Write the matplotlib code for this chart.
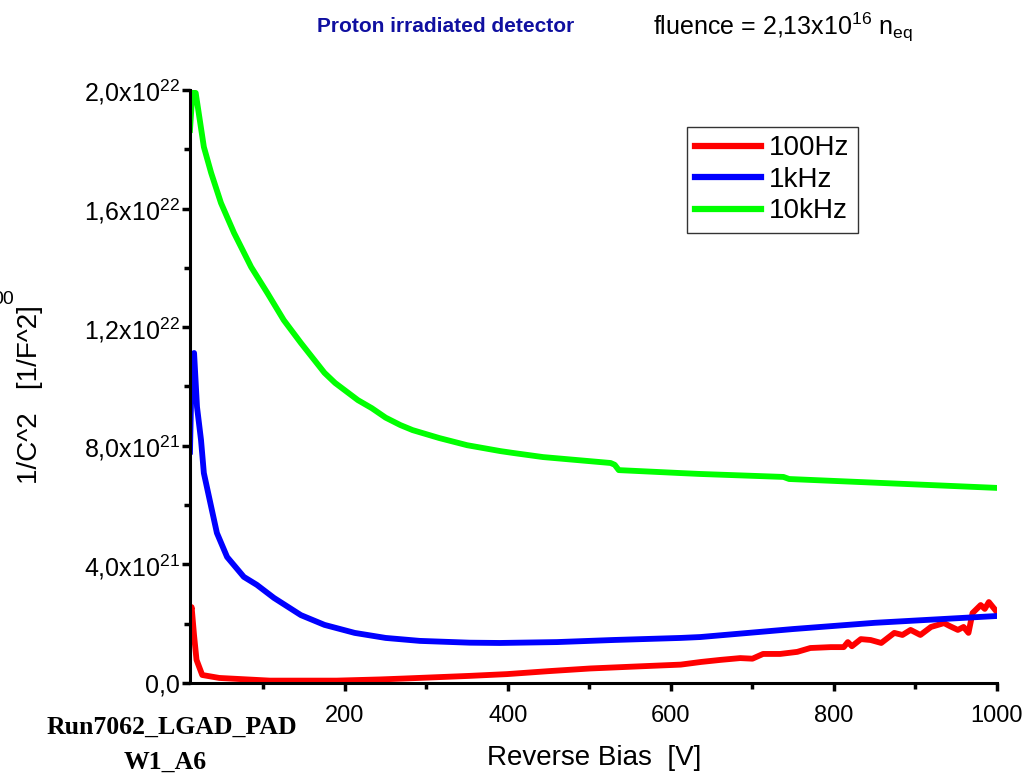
import numpy as np
import matplotlib.pyplot as plt
from matplotlib.ticker import FuncFormatter, MultipleLocator

plt.rcParams['font.family'] = ['Liberation Sans', 'DejaVu Sans']
plt.rcParams['mathtext.fontset'] = 'custom'
plt.rcParams['mathtext.rm'] = 'Liberation Sans'
plt.rcParams['mathtext.it'] = 'Liberation Sans:italic'

# reverse bias [V] and 1/C^2 [1e21 1/F^2]
v_100 = [10, 12, 15, 18, 25, 46, 108, 190, 243, 272, 353, 399, 450, 501, 560, 612, 637,
         661, 685, 700, 713, 734, 755, 771, 796, 812, 817, 822, 833, 845, 858, 874, 884,
         894, 906, 919, 935, 942, 952, 959, 965, 970, 980, 985, 990, 1000]
c_100 = [2.3, 2.56, 1.6, 0.78, 0.27, 0.17, 0.08, 0.08, 0.12, 0.15, 0.24, 0.30, 0.40, 0.49, 0.56,
         0.62, 0.71, 0.78, 0.84, 0.82, 0.98, 0.98, 1.05, 1.18, 1.21, 1.21, 1.38, 1.24, 1.48, 1.45,
         1.35, 1.69, 1.62, 1.79, 1.62, 1.89, 2.02, 1.92, 1.79, 1.89, 1.69, 2.36, 2.63, 2.50,
         2.73, 2.39]

v_1k = [10, 12, 15, 18.6, 23.5, 27, 36, 43, 55.5, 76, 92, 113, 146, 175, 212, 250, 292, 353,
        390, 460, 529, 612, 636, 750, 850, 1000]
c_1k = [7.8, 10.5, 11.13, 9.31, 8.20, 7.08, 5.94, 5.06, 4.25, 3.58, 3.31, 2.87, 2.29, 1.96,
        1.69, 1.52, 1.42, 1.36, 1.35, 1.38, 1.45, 1.52, 1.55, 1.82, 2.03, 2.26]

v_10k = [10, 13, 17, 27, 36, 48, 64, 85, 105, 125, 146, 175, 188, 216, 233, 250, 268,
         283, 316, 350, 391, 406, 443, 526, 531, 536, 612, 636, 738, 745, 1000]
c_10k = [18.65, 19.93, 19.9, 18.08, 17.2, 16.19, 15.18, 14.03, 13.15, 12.24, 11.47, 10.46,
         10.12, 9.54, 9.27, 8.95, 8.70, 8.53, 8.26, 8.02, 7.82, 7.76, 7.62, 7.42, 7.36,
         7.18, 7.08, 7.05, 6.95, 6.88, 6.58]

series = [('100Hz', v_100, c_100, '#ff0000'),
          ('1kHz', v_1k, c_1k, '#0000ff'),
          ('10kHz', v_10k, c_10k, '#00ff00')]

fig = plt.figure(figsize=(10.27, 7.76), dpi=100)
ax = fig.add_axes([190 / 1027, 1 - 683 / 776, (997 - 190) / 1027, (683 - 90) / 776])

for name, v, c, col in series:
    ax.plot(v, np.array(c) * 1e21, color=col, lw=4.2, label=name, solid_joinstyle='round')

ax.set_xlim(10, 1000)
ax.set_ylim(0, 2e22)
ax.xaxis.set_major_locator(MultipleLocator(200))
ax.xaxis.set_minor_locator(MultipleLocator(100))
ax.yaxis.set_major_locator(MultipleLocator(4e21))
ax.yaxis.set_minor_locator(MultipleLocator(2e21))


def yfmt(val, pos):
    if val <= 0:
        return '0,0'
    e = int(np.floor(np.log10(val) + 1e-9))
    m = val / 10 ** e
    return ('%.1f' % m).replace('.', ',') + 'x10$^{%d}$' % e


ax.yaxis.set_major_formatter(FuncFormatter(yfmt))

for s in ['top', 'right']:
    ax.spines[s].set_visible(False)
for s in ['left', 'bottom']:
    ax.spines[s].set_linewidth(2.2)

ax.tick_params(which='major', direction='out', length=6, width=2.5, labelsize=18, pad=1)
ax.tick_params(which='minor', direction='out', length=4, width=2.5)
ax.tick_params(axis='x', which='major', labelsize=17, pad=10)

leg = ax.legend(loc='upper left', bbox_to_anchor=(687 / 1027, 1 - 127 / 776),
                bbox_transform=fig.transFigure, borderaxespad=0, fontsize=20,
                handlelength=2.35, handletextpad=0.3, labelspacing=0.2,
                borderpad=0.3, fancybox=False, framealpha=1)
leg.get_frame().set_edgecolor('#333333')
leg.get_frame().set_linewidth(1.0)
for ln in leg.get_lines():
    ln.set_linewidth(4.5)

fig.text(594 / 1027, 1 - 758 / 776, 'Reverse Bias  [V]', ha='center', va='center', fontsize=20)
fig.text(30 / 1027, 1 - 395 / 776, '1/C^2   [1/F^2]', ha='center', va='center',
         rotation=90, fontsize=20)
fig.text(-0.008, 1 - 300 / 776, '00', ha='left', va='center', fontsize=14)

fig.text(446 / 1027, 1 - 27 / 776, 'Proton irradiated detector', ha='center', va='center',
         fontsize=15, fontweight='bold', color='#1010a0')
fig.text(653 / 1027, 1 - 27 / 776, 'fluence = 2,13x10$^{16}$ n$_{\\rm eq}$', ha='left',
         va='center', fontsize=18)

fig.text(172 / 1027, 1 - 727 / 776, 'Run7062_LGAD_PAD', ha='center', va='center',
         fontsize=18.5, fontweight='bold', family=['Liberation Serif', 'DejaVu Serif'])
fig.text(165 / 1027, 1 - 762 / 776, 'W1_A6', ha='center', va='center',
         fontsize=18.5, fontweight='bold', family=['Liberation Serif', 'DejaVu Serif'])

fig.savefig('out.png', dpi=100)
